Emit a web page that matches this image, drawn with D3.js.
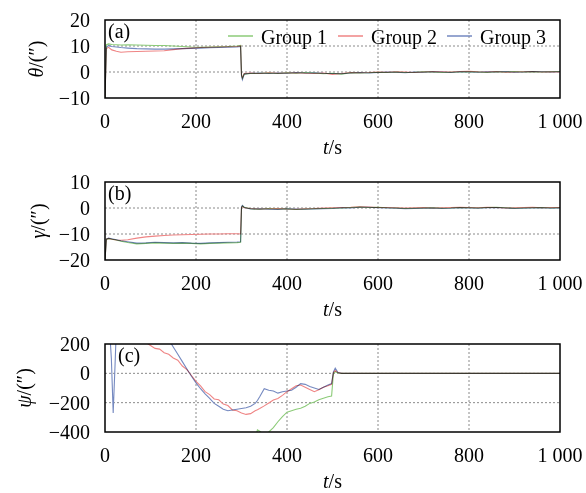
<!DOCTYPE html>
<html>
<head>
<meta charset="utf-8">
<title>Attitude error</title>
<script src="https://cdn.jsdelivr.net/npm/d3@7/dist/d3.min.js"></script>
<style>
  body { margin: 0; background: #fff; }
  svg text { font-family: "Liberation Serif", "Times New Roman", serif; font-size: 20px; fill: #000; }
  .grid { stroke: #8a8a8a; stroke-width: 1; stroke-dasharray: 2,2; }
  .frame { fill: none; stroke: #000; stroke-width: 1.5; }
  .series { fill: none; stroke-width: 1.1; mix-blend-mode: multiply; }
</style>
</head>
<body>
<script>
// ---- data ----
const groups = ["Group 1", "Group 2", "Group 3"];
const colors = ["#8ccb78", "#ef8585", "#7589c0"];

const tA = [0, 3, 8, 15, 25, 35, 50, 70, 90, 110, 130, 150, 170, 190, 210, 230, 250, 270, 290, 298, 300, 302, 306,
  320, 340, 360, 380, 400, 420, 440, 460, 480, 500, 520, 540, 560, 580, 600, 620, 640, 660, 680, 700, 720, 740, 760,
  780, 800, 820, 840, 860, 880, 900, 920, 940, 960, 980, 1000];
const thetaG1 = [-10, 10.5, 10.8, 10.6, 10.5, 10.4, 10.5, 10.4, 10.3, 10.2, 10.2, 10.0, 9.8, 9.6, 9.5, 9.6, 9.7, 9.8, 10.0, 10.2, -1.0, -2.5, -0.8,
  -0.6, -0.5, -0.4, -0.6, -0.3, -0.5, -0.2, -0.4, -0.7, -0.5, -0.8, -0.3, -0.4, -0.3, -0.1, -0.2, 0.0, -0.2, -0.1, 0.1, 0.0, -0.2, -0.1,
  0.0, 0.1, 0.0, -0.2, 0.1, 0.0, 0.2, 0.0, 0.1, 0.0, 0.1, 0.2];
const thetaG2 = [-10, 9.0, 9.5, 8.5, 8.0, 7.6, 7.8, 7.9, 8.0, 8.1, 8.2, 8.6, 9.0, 9.2, 9.4, 9.5, 9.6, 9.7, 9.8, 10.0, -1.2, -2.2, -0.6,
  -0.4, -0.6, -0.3, -0.5, -0.4, -0.3, -0.5, -0.6, -0.4, -0.9, -0.6, -0.2, -0.3, -0.2, 0.0, -0.1, 0.1, 0.0, -0.2, 0.0, 0.2, 0.1, 0.0,
  0.2, 0.3, 0.1, 0.0, 0.2, -0.1, 0.0, 0.1, 0.2, 0.0, 0.1, 0.0];
const thetaG3 = [-10, 9.5, 10.2, 9.8, 9.6, 9.4, 9.2, 9.0, 8.9, 8.8, 8.8, 8.9, 9.0, 9.1, 9.2, 9.3, 9.4, 9.5, 9.6, 9.8, -1.5, -3.0, -0.8,
  -0.5, -0.4, -0.6, -0.4, -0.5, -0.2, -0.4, -0.3, -0.5, -0.6, -0.7, -0.4, -0.2, -0.4, -0.2, 0.0, -0.1, -0.3, 0.0, -0.1, 0.1, 0.0, -0.2,
  0.1, 0.0, -0.1, 0.1, 0.0, 0.2, -0.1, 0.0, 0.2, 0.1, 0.0, 0.1];

const tB = tA;
const gammaG1 = [-20, -12.0, -11.8, -12.0, -12.3, -12.8, -13.3, -13.8, -13.6, -13.4, -13.5, -13.6, -13.5, -13.6, -13.8, -13.6, -13.5, -13.4, -13.3, -13.2, 0.0, 0.8, 0.3,
  -0.3, -0.5, -0.2, -0.4, -0.3, -0.6, -0.4, -0.3, -0.2, -0.1, 0.0, 0.2, 0.4, 0.2, 0.3, 0.1, 0.0, -0.2, -0.1, 0.0, 0.1, -0.1, 0.0,
  0.2, 0.1, 0.0, 0.2, 0.3, 0.1, -0.1, 0.0, 0.1, 0.2, 0.0, 0.1];
const gammaG2 = [-20, -12.0, -11.7, -12.0, -12.3, -12.4, -12.2, -11.6, -11.1, -10.8, -10.6, -10.4, -10.3, -10.2, -10.1, -10.0, -10.0, -9.9, -9.9, -10.0, 0.2, 0.6, 0.1,
  -0.2, -0.4, -0.3, -0.2, -0.4, -0.5, -0.3, -0.2, 0.0, 0.1, 0.2, 0.3, 0.5, 0.4, 0.2, 0.2, 0.1, 0.0, 0.1, 0.2, 0.0, 0.1, 0.2,
  0.3, 0.2, 0.1, 0.3, 0.2, 0.0, 0.1, 0.2, 0.3, 0.1, 0.2, 0.2];
const gammaG3 = [-20, -12.0, -11.6, -11.8, -12.2, -12.6, -13.0, -13.5, -13.4, -13.2, -13.3, -13.4, -13.3, -13.5, -13.6, -13.4, -13.3, -13.2, -13.1, -13.0, 0.5, 1.0, 0.2,
  -0.4, -0.3, -0.5, -0.6, -0.3, -0.4, -0.5, -0.4, -0.3, -0.2, 0.1, 0.0, 0.3, 0.3, 0.1, 0.0, -0.1, -0.3, -0.2, -0.1, 0.0, -0.2, -0.1,
  0.1, 0.0, -0.1, 0.1, 0.2, 0.0, -0.2, -0.1, 0.0, 0.1, -0.1, 0.0];

const tC = [0, 5, 10, 14, 18, 22, 26, 40, 60, 80, 90, 100, 110, 120, 130, 140, 150, 160, 170, 180, 190, 200, 210, 220, 230,
  240, 250, 260, 270, 280, 290, 300, 310, 320, 330, 335, 340, 350, 360, 370, 380, 390, 400, 410, 420, 430, 440, 450, 460,
  470, 480, 490, 498, 502, 506, 512, 520, 560, 600, 640, 680, 720, 760, 800, 840, 880, 920, 960, 1000];
const psiG1 = [null, null, null, null, null, null, null, null, null, null, null, null, null, null, null, null, null, null, null, null, null, null, null, null, null,
  null, null, null, null, null, null, null, null, null, -450, -385, -395, -420, -400, -370, -330, -295, -265, -255, -245, -238, -225, -205, -195,
  -180, -170, -160, -155, 0, 10, 2, 0, 0, 0, 0, 0, 0, 0, 0, 0, 0, 0, 0, 0];
const psiG2 = [400, 400, 400, 400, 400, 400, 400, 400, 400, 400, 210, 190, 170, 165, 140, 130, 105, 90, 50, 25, -15, -55, -85, -125, -145,
  -175, -180, -210, -220, -250, -255, -270, -280, -275, -255, -248, -240, -222, -202, -182, -172, -150, -125, -105, -85, -80, -95, -110, -125,
  -112, -95, -85, -75, 5, 20, 5, 0, 0, 0, 0, 0, 0, 0, 0, 0, 0, 0, 0, 0];
const psiG3 = [400, 400, 300, 100, -270, 50, 400, 400, 400, 400, 400, 400, 400, 400, 400, 230, 180, 130, 80, 30, -20, -65, -105, -140, -170,
  -205, -225, -245, -255, -250, -245, -240, -235, -225, -205, -185, -160, -105, -115, -120, -135, -125, -120, -115, -95, -70, -75, -90, -100,
  -110, -95, -80, -70, 10, 35, 5, 0, 0, 0, 0, 0, 0, 0, 0, 0, 0, 0, 0, 0];

const xTicks = [0, 200, 400, 600, 800, 1000];

// ---- layout ----
const W = 586, H = 493;
const left = 105, right = 560;
const panels = [
  { top: 20, bottom: 98, domain: [-10, 20], ticks: [-10, 0, 10, 20], name: "θ", tag: "(a)", tagX: 108,
    labelX: 36, t: tA, series: [thetaG1, thetaG2, thetaG3], legend: true },
  { top: 182, bottom: 260, domain: [-20, 10], ticks: [-20, -10, 0, 10], name: "γ", tag: "(b)", tagX: 108,
    labelX: 38, t: tB, series: [gammaG1, gammaG2, gammaG3] },
  { top: 344, bottom: 432, domain: [-400, 200], ticks: [-400, -200, 0, 200], name: "ψ", tag: "(c)", tagX: 118,
    labelX: 24, t: tC, series: [psiG1, psiG2, psiG3] }
];

const fmt = d3.formatLocale({ decimal: ".", thousands: " ", grouping: [3], currency: ["", ""], minus: "\u2212" }).format(",");

const svg = d3.select("body").append("svg")
  .attr("width", W).attr("height", H);

const x = d3.scaleLinear().domain([0, 1000]).range([left, right]);

panels.forEach((p, pi) => {
  const y = d3.scaleLinear().domain(p.domain).range([p.bottom, p.top]);
  const g = svg.append("g");

  g.append("clipPath").attr("id", "clip" + pi)
    .append("rect").attr("x", left).attr("y", p.top).attr("width", right - left).attr("height", p.bottom - p.top);

  // grid
  g.selectAll("line.vg").data(xTicks.filter(d => d > 0 && d < 1000)).join("line")
    .attr("class", "grid")
    .attr("x1", d => x(d)).attr("x2", d => x(d)).attr("y1", p.top).attr("y2", p.bottom);
  g.selectAll("line.hg").data(p.ticks.filter(d => d > p.domain[0] && d < p.domain[1])).join("line")
    .attr("class", "grid")
    .attr("x1", left).attr("x2", right).attr("y1", d => y(d)).attr("y2", d => y(d));

  // series
  const line = d3.line()
    .defined(d => d[1] != null)
    .x(d => x(d[0])).y(d => y(d[1]));
  const lg = g.append("g").attr("clip-path", `url(#clip${pi})`);
  p.series.forEach((s, si) => {
    lg.append("path").attr("class", "series")
      .attr("stroke", colors[si])
      .attr("d", line(p.t.map((t, i) => [t, s[i]])));
  });

  g.append("rect").attr("class", "frame")
    .attr("x", left).attr("y", p.top).attr("width", right - left).attr("height", p.bottom - p.top);

  // tick labels
  g.selectAll("text.xt").data(xTicks).join("text")
    .attr("x", d => x(d)).attr("y", p.bottom + 30)
    .attr("text-anchor", "middle").text(d => fmt(d));
  g.selectAll("text.yt").data(p.ticks).join("text")
    .attr("x", 90).attr("y", d => y(d)).attr("dy", "0.35em")
    .attr("text-anchor", "end").text(d => fmt(d));

  // axis titles
  const xl = g.append("text").attr("x", (left + right) / 2).attr("y", p.bottom + 56).attr("text-anchor", "middle");
  xl.append("tspan").attr("font-style", "italic").text("t");
  xl.append("tspan").text("/s");

  const cy = (p.top + p.bottom) / 2;
  const yl = g.append("text")
    .attr("transform", `translate(${p.labelX},${cy}) rotate(-90)`)
    .attr("text-anchor", "middle").attr("dy", "0.35em");
  yl.append("tspan").attr("font-style", "italic").text(p.name);
  yl.append("tspan").text("/(\u2033)");

  g.append("text").attr("x", p.tagX).attr("y", p.top + 18).text(p.tag);

  if (p.legend) {
    const lx = [228, 338, 447];
    groups.forEach((name, i) => {
      g.append("line").attr("x1", lx[i]).attr("x2", lx[i] + 25).attr("y1", 36).attr("y2", 36)
        .attr("stroke", colors[i]).attr("stroke-width", 1.5);
      g.append("text").attr("x", lx[i] + 33).attr("y", 43.5).text(name);
    });
  }
});
</script>
</body>
</html>
